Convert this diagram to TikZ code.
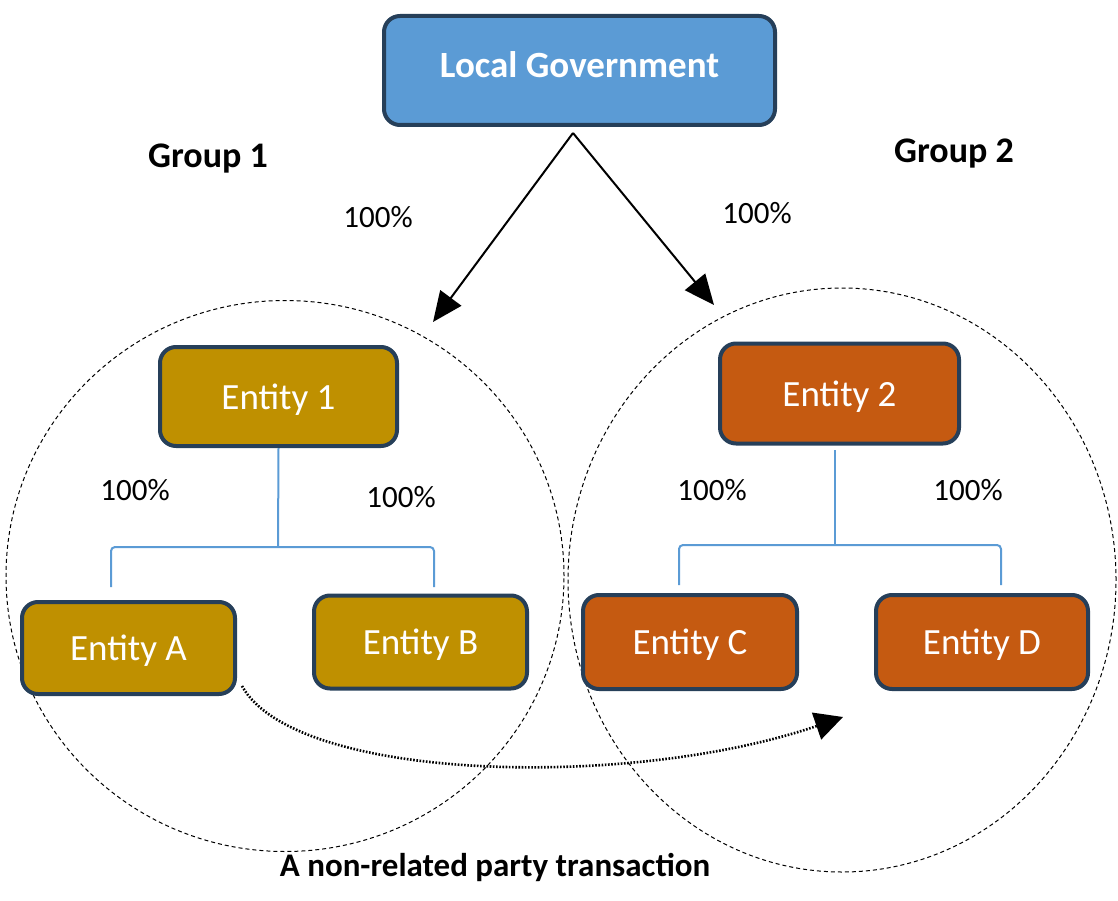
\documentclass[tikz,border=0pt]{standalone}
\usepackage{fontspec}
\setmainfont{Carlito}
\usetikzlibrary{arrows.meta,shapes.geometric}
\definecolor{lgblue}{HTML}{5B9BD5}
\definecolor{boxedge}{HTML}{263F59}
\definecolor{gold}{HTML}{BF9000}
\definecolor{rust}{HTML}{C55A11}
\definecolor{treeblue}{HTML}{5B9BD5}
\tikzset{
  ebox/.style={draw=boxedge, line width=4pt, rounded corners=16pt, text=white,
    font=\fontsize{37}{40}\selectfont, inner sep=0pt, text depth=0pt},
  grp/.style={draw=black, line width=1pt, dash pattern=on 4pt off 3pt, ellipse, inner sep=0pt},
  pct/.style={font=\fontsize{31}{34}\selectfont},
  gtitle/.style={font=\fontsize{36}{40}\selectfont\bfseries},
  tree/.style={draw=treeblue, line width=2pt, rounded corners=4pt},
  own/.style={line width=2pt, -{Triangle[length=30pt,width=26pt]}},
  trans/.style={line width=2.6pt, dash pattern=on 1.6pt off 1.6pt, -{Triangle[length=28pt,width=28pt]}}
}
\begin{document}
\begin{tikzpicture}[x=1pt,y=-1pt]
\useasboundingbox (0,0) rectangle (1118,901);
% groups
\node[grp, minimum width=558pt, minimum height=551pt] (g1) at (285,576) {};
\node[grp, minimum width=548pt, minimum height=584pt] (g2) at (842,580) {};
% boxes
\node[ebox, fill=lgblue, minimum width=391pt, minimum height=109pt, text depth=12pt, font=\fontsize{37}{40}\selectfont\bfseries] (lg) at (579.5,70.5) {Local Government};
\node[ebox, fill=gold, minimum width=237pt, minimum height=99pt] (e1) at (278.5,396.5) {Entity 1};
\node[ebox, fill=rust, minimum width=239pt, minimum height=100pt] (e2) at (839.5,393.5) {Entity 2};
\node[ebox, fill=gold, minimum width=213pt, minimum height=92pt] (ea) at (128.5,648) {Entity A};
\node[ebox, fill=gold, minimum width=213pt, minimum height=93pt] (eb) at (420.5,642) {Entity B};
\node[ebox, fill=rust, minimum width=214pt, minimum height=94pt] (ec) at (690,642) {Entity C};
\node[ebox, fill=rust, minimum width=212pt, minimum height=94pt] (ed) at (982,642) {Entity D};
% titles and labels
\node[gtitle] (t1) at (208,159) {Group 1};
\node[gtitle] (t2) at (954,154) {Group 2};
\node[pct] (p0) at (378,217) {100\%};
\node[pct] (p00) at (757,213) {100\%};
\node[pct] (p1) at (135,490) {100\%};
\node[pct] (p2) at (401,497) {100\%};
\node[pct] (p3) at (712,490) {100\%};
\node[pct] (p4) at (968,490) {100\%};
\node[font=\fontsize{33}{36}\selectfont\bfseries] (cap) at (495,867) {A non-related party transaction};
% ownership arrows
\coordinate (src) at (573,133);
\coordinate (tip1) at (433,322);
\coordinate (tip2) at (714,305);
\draw[own] (src) -- (tip1);
\draw[own] (src) -- (tip2);
% tree 1
\coordinate (j1) at (278,547);
\coordinate (a1) at (111,587);
\coordinate (b1) at (434,587);
\draw[tree] (e1.south) -- (j1);
\draw[tree] (a1) -- (a1 |- j1) -- (b1 |- j1) -- (b1);
% tree 2
\coordinate (j2) at (835,545);
\coordinate (c2) at (679,585);
\coordinate (d2) at (1001,585);
\draw[tree] (835,450) -- (j2);
\draw[tree] (c2) -- (c2 |- j2) -- (d2 |- j2) -- (d2);
% transaction
\coordinate (ts) at (242,686);
\coordinate (tt) at (843,717);
\draw[trans] (ts) .. controls (295,782) and (630,790) .. (tt);
\end{tikzpicture}
\end{document}
